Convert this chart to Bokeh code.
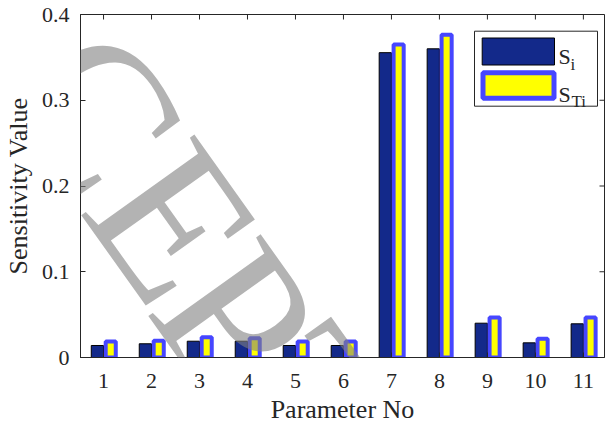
from bokeh.plotting import figure
from bokeh.models import FixedTicker, Range1d, Label, BoxAnnotation, ColumnDataSource
from bokeh.transform import dodge
from bokeh.embed import file_html
from bokeh.resources import INLINE

# ---- data ----
params = [1, 2, 3, 4, 5, 6, 7, 8, 9, 10, 11]
si = [0.014, 0.016, 0.019, 0.019, 0.014, 0.014, 0.3555, 0.360, 0.040, 0.0171, 0.0393]
sti = [0.0187, 0.0195, 0.0237, 0.0225, 0.0187, 0.0187, 0.365, 0.3765, 0.0467, 0.0218, 0.0467]
y_ticks = [0, 0.1, 0.2, 0.3, 0.4]
y_tick_labels = ["0", "0.1", "0.2", "0.3", "0.4"]
x_title = "Parameter No"
y_title = "Sensitivity Value"
legend_main = ["S", "S"]
legend_sub = ["i", "Ti"]
watermark_letters = ["C", "E", "P", "T"]

NAVY = "#13298a"
YELLOW = "#ffff00"
BLUE_EDGE = "#4646ff"
AXIS = "#262626"
SERIF = "Liberation Serif"

X0, X1 = 0.52, 11.44
Y0, Y1 = 0.0, 0.4
FW, FH = 524, 343
FL, FT = 72, 14  # frame offset in figure
PAGE_X, PAGE_Y = 8, 1  # observed page offset of the figure


def px2data(px, py):
    """convert picture pixel position to data coords"""
    fx = px - PAGE_X - FL
    fy = py - PAGE_Y - FT
    return X0 + fx / FW * (X1 - X0), Y1 - fy / FH * (Y1 - Y0)


src = ColumnDataSource(dict(x=params, si=si, sti=sti))

p = figure(frame_width=FW, frame_height=FH,
           x_range=Range1d(X0, X1), y_range=Range1d(Y0, Y1),
           output_backend="svg", toolbar_location=None,
           min_border_left=FL, min_border_top=FT, min_border_right=1,
           min_border_bottom=60)
p.background_fill_color = "white"
p.border_fill_color = "white"
p.outline_line_color = AXIS
p.outline_line_width = 1
p.xgrid.visible = False
p.ygrid.visible = False

p.vbar(x=dodge("x", -0.128, range=p.x_range), top="si", width=0.255, bottom=0,
       source=src, fill_color=NAVY, line_color="black", line_width=1)
p.vbar(x=dodge("x", 0.15, range=p.x_range), top="sti", width=0.21, bottom=0,
       source=src, fill_color=YELLOW, line_color=BLUE_EDGE, line_width=4)

# axes
xa = p.xaxis[0]
xa.ticker = FixedTicker(ticks=params)
xa.axis_label = x_title
ya = p.yaxis[0]
ya.ticker = FixedTicker(ticks=y_ticks)
ya.major_label_overrides = {t: l for t, l in zip(y_ticks, y_tick_labels)}
ya.axis_label = y_title
for ax in (xa, ya):
    ax.major_tick_in = 5
    ax.major_tick_out = 0
    ax.minor_tick_line_color = None
    ax.axis_line_color = AXIS
    ax.major_tick_line_color = AXIS
    ax.major_label_text_font = SERIF
    ax.major_label_text_font_size = "22px"
    ax.major_label_text_color = AXIS
    ax.axis_label_text_font = SERIF
    ax.axis_label_text_font_size = "26px"
    ax.axis_label_text_font_style = "normal"
    ax.axis_label_text_color = AXIS
xa.major_label_standoff = 16
xa.axis_label_standoff = 4
ya.major_label_standoff = 11
ya.axis_label_standoff = 6

# mirrored inner ticks on the top and right edges of the box
tick_dy = 5 / FH * (Y1 - Y0)
tick_dx = 5 / FW * (X1 - X0)
p.segment(x0=params, x1=params, y0=[Y1] * len(params), y1=[Y1 - tick_dy] * len(params),
          line_color=AXIS, line_width=1)
p.segment(x0=[X1] * len(y_ticks), x1=[X1 - tick_dx] * len(y_ticks), y0=y_ticks, y1=y_ticks,
          line_color=AXIS, line_width=1)

# legend (manual, for subscripts)
l0, t0 = px2data(474, 31.7)
l1, t1 = px2data(597, 106.7)
p.add_layout(BoxAnnotation(left=l0, right=l1, top=t0, bottom=t1, fill_color="white",
                           fill_alpha=1, line_color=AXIS, line_alpha=1, line_width=1))
a0, b0 = px2data(481.7, 38.5)
a1, b1 = px2data(554, 65.5)
p.add_layout(BoxAnnotation(left=a0, right=a1, top=b0, bottom=b1, fill_color=NAVY,
                           fill_alpha=1, line_color="black", line_alpha=1, line_width=1))
c0, d0 = px2data(482.5, 73.3)
c1, d1 = px2data(553.5, 98.8)
p.add_layout(BoxAnnotation(left=c0, right=c1, top=d0, bottom=d1, fill_color=YELLOW,
                           fill_alpha=1, line_color=BLUE_EDGE, line_alpha=1, line_width=5))
for i, (m, s) in enumerate(zip(legend_main, legend_sub)):
    mx, my = px2data(558, [56.7, 95][i])
    sx, sy = px2data([570, 571][i], [65, 101.5][i])
    p.add_layout(Label(x=mx, y=my, text=m, text_font=SERIF, text_font_size="22px",
                       text_color=AXIS, text_baseline="alphabetic", text_align="left"))
    p.add_layout(Label(x=sx, y=sy, text=s, text_font=SERIF, text_font_size="17px",
                       text_color=AXIS, text_baseline="alphabetic", text_align="left"))

# watermark ("ACCEPTED" stamp), one label per letter, centred on the letter
letter_centres = [(95, 112), (173, 222), (236, 317), (311, 406)]
for ch, (cx, cy) in zip(watermark_letters, letter_centres):
    wx, wy = px2data(cx, cy)
    p.add_layout(Label(x=wx, y=wy, text=ch, text_font="Liberation Sans Narrow",
                       text_font_size="212px", text_color="#808080", text_alpha=0.6,
                       angle=-54.5, angle_units="deg", text_baseline="middle",
                       text_align="center", level="overlay"))

open("out.html", "w").write(file_html(p, INLINE))
